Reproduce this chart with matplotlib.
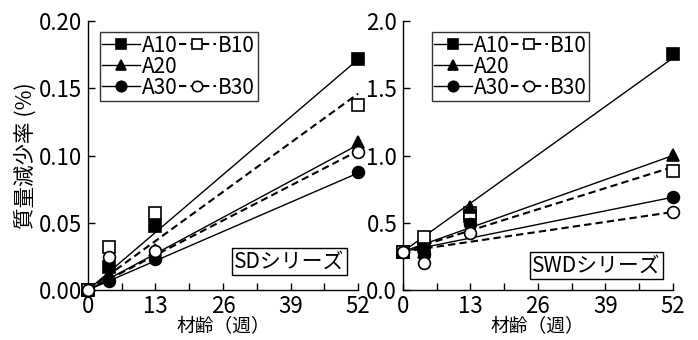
import numpy as np
import matplotlib
matplotlib.use("Agg")
import matplotlib.pyplot as plt
from matplotlib.lines import Line2D

plt.rcParams['font.family'] = ['Noto Sans CJK JP', 'DejaVu Sans']

weeks = [0, 4, 13, 52]
series = ["A10", "B10", "A20", "A30", "B30"]

# SD series, mass loss (%)
sd = {
    "A10": [0.0, 0.0173, 0.0476, 0.1715],
    "B10": [0.0, 0.0322, 0.0575, 0.1373],
    "A20": [0.0, 0.0120, 0.0300, 0.1100],
    "A30": [0.0, 0.0067, 0.0228, 0.0875],
    "B30": [0.0, 0.0243, 0.0292, 0.1024],
}
# fitted lines: value at week 0 and week 52
sd_fit = {
    "A10": [0.0, 0.1715],
    "B10": [0.0, 0.1460],
    "A20": [0.0, 0.1080],
    "A30": [0.0, 0.0870],
    "B30": [0.0, 0.1035],
}

# SWD series
swd = {
    "A10": [0.285, 0.330, 0.550, 1.752],
    "B10": [0.285, 0.396, 0.575, 0.887],
    "A20": [0.285, 0.280, 0.615, 1.004],
    "A30": [0.285, 0.268, 0.490, 0.694],
    "B30": [0.285, 0.203, 0.421, 0.578],
}
swd_fit = {
    "A10": [0.285, 1.725],
    "B10": [0.285, 0.915],
    "A20": [0.285, 1.000],
    "A30": [0.285, 0.690],
    "B30": [0.285, 0.580],
}

styles = {
    "A10": dict(marker="s", mfc="black", ls="-", lw=1.0),
    "B10": dict(marker="s", mfc="white", ls=(0, (3.5, 2)), lw=1.5),
    "A20": dict(marker="^", mfc="black", ls="-", lw=1.0),
    "A30": dict(marker="o", mfc="black", ls="-", lw=1.0),
    "B30": dict(marker="o", mfc="white", ls=(0, (3.5, 2)), lw=1.5),
}
ms = 8.5
fs = 16

fig = plt.figure(figsize=(6.98, 3.40), dpi=100)
ax1 = fig.add_axes([0.126, 0.147, 0.387, 0.791])
ax2 = fig.add_axes([0.577, 0.147, 0.387, 0.791])


def draw(ax, data, fit, ymax, ystep, fmt, label, lx, ly, tx, ty):
    for s in series:
        st = styles[s]
        ax.plot([0, 52], fit[s], color="black", ls=st["ls"], lw=st["lw"],
                zorder=2, clip_on=False)
    for s in series:
        st = styles[s]
        ax.plot(weeks, data[s], ls="none", marker=st["marker"], ms=ms,
                mfc=st["mfc"], mec="black", mew=1.2, zorder=3, clip_on=False)

    ax.set_xlim(0, 52)
    ax.set_ylim(0, ymax)
    ax.set_xticks([0, 13, 26, 39, 52])
    ax.set_xticks(np.arange(0, 53, 6.5), minor=True)
    ax.set_yticks(np.arange(0, ymax + ystep / 2, ystep))
    ax.yaxis.set_major_formatter(plt.FormatStrFormatter(fmt))
    ax.tick_params(direction="in", length=5, width=1, labelsize=fs,
                   pad=4, which="both", colors="black")
    ax.tick_params(axis="x", pad=3.5)
    for sp in ["top", "right"]:
        ax.spines[sp].set_visible(False)
    for sp in ["left", "bottom"]:
        ax.spines[sp].set_linewidth(1.0)
    ax.set_xlabel("材齢（週）", fontsize=13.5, labelpad=-1.5)

    handles = []
    for s in ["A10", "A20", "A30", "B10", None, "B30"]:
        if s is None:
            handles.append(Line2D([], [], ls="none"))
            continue
        st = styles[s]
        handles.append(Line2D([], [], color="black", ls=st["ls"], lw=st["lw"],
                              marker=st["marker"], ms=ms - 1, mfc=st["mfc"],
                              mec="black", mew=1.2))
    labels = ["A10", "A20", "A30", "B10", "", "B30"]
    leg = ax.legend(handles, labels, ncol=2, loc="upper left",
                    bbox_to_anchor=(lx, ly), frameon=True, fancybox=False,
                    edgecolor="black", fontsize=15, handlelength=1.8,
                    handletextpad=0.1, columnspacing=0.05, labelspacing=-0.05,
                    borderpad=0.12, borderaxespad=0)
    leg.get_frame().set_linewidth(1.0)

    ax.text(tx, ty, label, transform=ax.transAxes, ha="right", va="bottom",
            fontsize=15,
            bbox=dict(boxstyle="square,pad=0.12", fc="white", ec="black", lw=1.0))


draw(ax1, sd, sd_fit, 0.20, 0.05, "%.2f", "SDシリーズ", 0.044, 0.959, 0.95, 0.065)
draw(ax2, swd, swd_fit, 2.0, 0.5, "%.1f", "SWDシリーズ", 0.107, 0.959, 0.955, 0.05)
ax1.set_ylabel("質量減少率 (%)", fontsize=15.5, labelpad=2)

fig.savefig("out.png", dpi=100)
